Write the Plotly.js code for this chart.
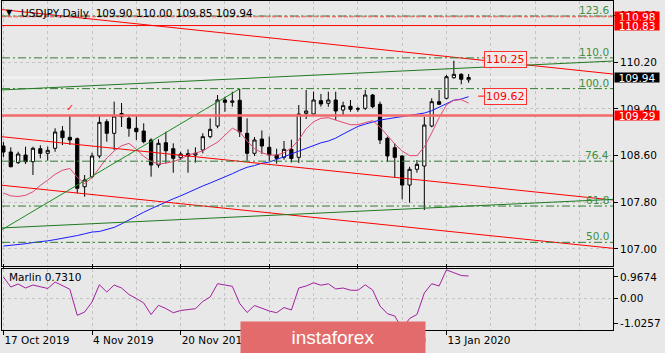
<!DOCTYPE html>
<html><head><meta charset="utf-8">
<script src="https://cdn.plot.ly/plotly-3.0.1.min.js"></script>
<style>html,body{margin:0;padding:0;background:#e8e8e8;overflow:hidden}#chart{width:665px;height:353px}</style>
</head><body><div id="chart"></div>
<script>
// ---------- data ----------
const dates = ['2019-10-17','2019-10-18','2019-10-21','2019-10-22','2019-10-23','2019-10-24','2019-10-25','2019-10-28','2019-10-29','2019-10-30','2019-10-31','2019-11-01','2019-11-04','2019-11-05','2019-11-06','2019-11-07','2019-11-08','2019-11-11','2019-11-12','2019-11-13','2019-11-14','2019-11-15','2019-11-18','2019-11-19','2019-11-20','2019-11-21','2019-11-22','2019-11-25','2019-11-26','2019-11-27','2019-11-28','2019-11-29','2019-12-02','2019-12-03','2019-12-04','2019-12-05','2019-12-06','2019-12-09','2019-12-10','2019-12-11','2019-12-12','2019-12-13','2019-12-16','2019-12-17','2019-12-18','2019-12-19','2019-12-20','2019-12-23','2019-12-24','2019-12-26','2019-12-27','2019-12-30','2019-12-31','2020-01-02','2020-01-03','2020-01-06','2020-01-07','2020-01-08','2020-01-09','2020-01-10','2020-01-13','2020-01-14','2020-01-15','2020-01-16'];
const open  = [108.765,108.662,108.479,108.611,108.496,108.719,108.640,108.726,109.022,108.914,108.890,108.067,108.239,108.594,109.182,108.983,109.322,109.240,109.069,109.022,108.868,108.439,108.822,108.719,108.564,108.633,108.611,108.697,108.925,109.108,109.554,109.514,109.549,108.983,108.640,108.885,108.743,108.611,108.571,108.708,108.571,109.326,109.314,109.542,109.497,109.554,109.382,109.446,109.404,109.411,109.639,109.480,108.897,108.736,108.594,108.096,108.366,108.422,109.108,109.525,109.583,109.936,109.994,109.90];
const high  = [108.834,108.743,108.667,108.753,108.753,108.777,108.753,109.069,109.108,109.297,108.910,108.268,108.650,109.279,109.223,109.525,109.502,109.297,109.279,109.154,108.897,108.880,109.010,108.811,108.667,108.708,108.743,108.983,109.240,109.639,109.610,109.696,109.746,109.240,108.919,109.031,108.928,108.719,108.851,108.873,109.468,109.725,109.696,109.657,109.696,109.696,109.525,109.554,109.439,109.725,109.657,109.525,108.925,108.811,108.611,108.410,108.525,109.267,109.583,109.725,109.982,110.227,110.011,110.00];
const low   = [108.576,108.400,108.456,108.456,108.268,108.554,108.513,108.667,108.782,108.782,107.954,107.896,108.211,108.554,108.839,108.697,109.091,108.925,108.868,108.811,108.239,108.393,108.468,108.307,108.525,108.307,108.479,108.640,108.897,109.069,109.353,109.439,108.919,108.513,108.594,108.628,108.508,108.462,108.530,108.482,108.474,109.228,109.297,109.439,109.439,109.211,109.297,109.353,109.353,109.382,109.411,108.799,108.496,108.228,107.851,107.793,108.307,107.668,109.086,109.468,109.566,109.919,109.823,109.85];
const close = [108.662,108.410,108.628,108.496,108.726,108.640,108.691,109.005,108.907,108.868,108.040,108.182,108.594,109.171,108.983,109.279,109.267,109.069,109.010,108.839,108.439,108.811,108.684,108.554,108.628,108.594,108.640,108.925,109.051,109.554,109.514,109.537,109.005,108.640,108.868,108.765,108.611,108.554,108.708,108.551,109.314,109.365,109.554,109.485,109.554,109.365,109.456,109.394,109.399,109.639,109.439,108.868,108.594,108.571,108.096,108.366,108.451,109.125,109.525,109.480,109.953,109.994,109.909,109.94];
const maFast = [107.96,107.91,107.90,107.92,107.98,108.09,108.18,108.28,108.35,108.38,108.23,108.12,108.22,108.39,108.56,108.68,108.77,108.81,108.71,108.59,108.50,108.46,108.47,108.50,108.54,108.61,108.65,108.68,108.76,108.83,108.95,109.07,109.01,108.85,108.72,108.65,108.61,108.61,108.65,108.73,108.87,109.06,109.18,109.24,109.25,109.21,109.17,109.13,109.13,109.16,109.20,109.09,108.94,108.80,108.68,108.60,108.60,108.75,108.99,109.25,109.47,109.55,109.56,109.50];
const maSlow = [107.05,107.06,107.08,107.09,107.11,107.12,107.14,107.16,107.18,107.21,107.23,107.26,107.29,107.30,107.33,107.37,107.43,107.50,107.57,107.63,107.69,107.75,107.81,107.86,107.91,107.97,108.02,108.08,108.13,108.18,108.23,108.29,108.35,108.40,108.43,108.47,108.49,108.53,108.58,108.63,108.68,108.73,108.77,108.82,108.85,108.90,108.97,109.04,109.10,109.14,109.18,109.21,109.23,109.25,109.26,109.28,109.30,109.33,109.37,109.43,109.50,109.55,109.57,109.61];
const marlin = [0.699,0.375,0.472,0.343,0.440,0.375,0.327,0.537,0.424,0.301,-0.541,-0.434,-0.110,0.450,0.213,0.440,0.343,0.132,0.003,-0.142,-0.515,-0.217,-0.321,-0.457,-0.385,-0.359,-0.327,-0.094,0.052,0.482,0.450,0.398,-0.159,-0.450,-0.223,-0.314,-0.401,-0.457,-0.288,-0.369,0.343,0.408,0.511,0.433,0.479,0.311,0.343,0.272,0.268,0.446,0.278,-0.240,-0.489,-0.563,-0.980,-0.644,-0.515,0.181,0.482,0.408,0.930,0.838,0.747,0.731];
const tickDates = ['2019-10-17','2019-11-04','2019-11-20','2019-12-06','2019-12-24','2020-01-13'];
const tickText  = ['17 Oct 2019','4 Nov 2019','20 Nov 2019','6 Dec 2019','24 Dec 2019','13 Jan 2020'];
const priceTicks = [111.00,110.20,109.40,108.60,107.80,107.00];
const marlinTickVals = [0.699,0,-0.812];
const marlinTickText = ['0.9674','0.00','-1.0257'];
const fibText  = ['123.6','110.0','100.0','76.4','61.8','50.0'];
const fibPrice = [110.993,110.276,109.749,108.505,107.736,107.114];
// trend lines: [bar index, price] anchors
const trendRedTop = {x:[-0.46,82.55], y:[111.107,109.999]};
const trendRedMid = {x:[-0.46,82.55], y:[108.928,107.839]};
const trendRedLow = {x:[-0.46,82.55], y:[108.096,107.011]};
const trendGrnTop = {x:[-0.46,82.55], y:[109.725,110.222]};
const trendGrnLow = {x:[-0.46,82.55], y:[107.359,107.851]};
const trendGrnDiag = {x:[-0.46,32], y:[107.311,109.746]};
const levelRed = [110.98,110.83];
const levelSupport = 109.29;
const bid = 109.94;
const tagRed = [110.98,110.83,109.29];
const boxLabels = [110.25,109.62];
const titleParts = ['USDJPY,Daily','109.90 110.00 109.85 109.94'];
const marlinLabel = 'Marlin 0.7310';

// ---------- build ----------
const xi = dates.map((d,i)=>i);
const tickIdx = tickDates.map(d=>dates.indexOf(d));
const FONT = 'DejaVu Sans';
const GRID = '#c4c4c4';
const FIBC = '#2f7f2f';

function tl(t,color){return {type:'scatter',mode:'lines',x:t.x,y:t.y,xaxis:'x',yaxis:'y',line:{color:color,width:1},hoverinfo:'skip',showlegend:false};}

const traces = [
  {type:'scatter',mode:'lines',x:xi,y:maSlow,line:{color:'#1a1aff',width:1},hoverinfo:'skip',showlegend:false},
  {type:'scatter',mode:'lines',x:xi,y:maFast,line:{color:'#e2486e',width:1},hoverinfo:'skip',showlegend:false},
  {type:'candlestick',x:xi,open:open,high:high,low:low,close:close,xaxis:'x',yaxis:'y',
   increasing:{line:{color:'#000',width:1},fillcolor:'#ffffff'},
   decreasing:{line:{color:'#000',width:1},fillcolor:'#000000'},
   whiskerwidth:0,hoverinfo:'skip',showlegend:false},
  tl(trendRedTop,'#ff0000'), tl(trendRedMid,'#ff0000'), tl(trendRedLow,'#ff0000'),
  tl(trendGrnTop,'#1f7a1f'), tl(trendGrnLow,'#1f7a1f'), tl(trendGrnDiag,'#1f8a1f'),
  {type:'scatter',mode:'lines',x:xi,y:marlin,xaxis:'x',yaxis:'y2',line:{color:'#a0209e',width:1},hoverinfo:'skip',showlegend:false}
];

const shapes = [];
fibPrice.forEach(p=>shapes.push({type:'line',xref:'paper',x0:0,x1:1,yref:'y',y0:p,y1:p,line:{color:FIBC,width:1,dash:'8px,3px,2px,3px'},layer:'above'}));
shapes.push({type:'line',xref:'paper',x0:0,x1:1,yref:'y',y0:levelRed[0],y1:levelRed[0],line:{color:'#ff5050',width:1,dash:'4px,2px'},layer:'above'});
shapes.push({type:'line',xref:'paper',x0:0,x1:1,yref:'y',y0:levelRed[1],y1:levelRed[1],line:{color:'#ff0000',width:1},layer:'above'});
shapes.push({type:'line',xref:'paper',x0:0,x1:1,yref:'y',y0:levelSupport,y1:levelSupport,line:{color:'#f26a6a',width:2.5},layer:'above'});
shapes.push({type:'line',xref:'paper',x0:0,x1:1,yref:'y',y0:bid,y1:bid,line:{color:'#f2f2f2',width:2},layer:'between'});
shapes.push({type:'line',xref:'paper',x0:0,x1:1,yref:'y2',y0:0,y1:0,line:{color:GRID,width:1,dash:'3px,3px'},layer:'between'});
// leader line for lower price box
shapes.push({type:'line',xref:'x',x0:64.3,x1:65.5,yref:'y',y0:boxLabels[1],y1:boxLabels[1],line:{color:'#ff0000',width:1},layer:'above'});

const ann = [];
// title
ann.push({xref:'paper',yref:'paper',x:0.0295,y:0.965,xanchor:'left',yanchor:'middle',text:titleParts.join('\u00a0\u00a0'),showarrow:false,borderpad:0,font:{family:FONT,size:10.5,color:'#000'}});
ann.push({xref:'paper',yref:'paper',x:0.0123,y:0.966,xanchor:'center',yanchor:'middle',text:'▼',showarrow:false,font:{family:FONT,size:8,color:'#000'}});
ann.push({xref:'paper',yref:'paper',x:0.0082,y:0.161,xanchor:'left',yanchor:'middle',text:marlinLabel,showarrow:false,font:{family:FONT,size:10.5,color:'#000'}});
// fib labels
fibPrice.forEach((p,k)=>ann.push({xref:'paper',yref:'y',x:1,y:p,xanchor:'right',yanchor:'bottom',xshift:-2,yshift:-2,text:fibText[k],showarrow:false,font:{family:FONT,size:10.5,color:'#3f8f3f'}}));
// right tags
tagRed.forEach(p=>ann.push({xref:'paper',yref:'y',x:1,y:p,xanchor:'left',yanchor:'middle',xshift:1,text:p.toFixed(2),showarrow:false,bgcolor:'#ff0000',width:44,height:9,borderpad:0,align:'center',font:{family:FONT,size:10.5,color:'#fff'}}));
ann.push({xref:'paper',yref:'y',x:1,y:bid,xanchor:'left',yanchor:'middle',xshift:1,text:bid.toFixed(2),showarrow:false,bgcolor:'#000',width:44,height:9,borderpad:0,align:'center',font:{family:FONT,size:10.5,color:'#fff'}});
// boxed price labels
boxLabels.forEach(p=>ann.push({xref:'x',yref:'y',x:68,y:p,xanchor:'center',yanchor:'middle',text:p.toFixed(2),showarrow:false,bgcolor:'rgba(236,236,236,0.9)',bordercolor:'#ff3030',borderwidth:1,borderpad:1,font:{family:FONT,size:11,color:'#ff0000'}}));
// check mark
ann.push({xref:'x',yref:'y',x:9,y:high[9],xanchor:'center',yanchor:'bottom',yshift:0,text:'✓',showarrow:false,font:{family:FONT,size:10,color:'#ff2020'}});
// watermark
ann.push({xref:'paper',yref:'paper',x:0.5417,y:-0.0228,xanchor:'center',yanchor:'middle',text:'instaforex',showarrow:false,bgcolor:'#e36b6b',width:184,height:31,borderpad:0,font:{family:'Liberation Sans',size:19,color:'#fff'}});

const layout = {
  width:665,height:353,
  margin:{l:2,r:52,t:1,b:23},
  paper_bgcolor:'#e8e8e8',plot_bgcolor:'#e8e8e8',
  font:{family:FONT,size:10.5,color:'#000'},
  showlegend:false,
  boxgap:0.38,
  xaxis:{type:'linear',range:[-0.19,82.55],anchor:'y2',
    tickmode:'array',tickvals:tickIdx,ticktext:tickText,ticks:'outside',ticklen:4,tickcolor:'#000',
    ticklabelposition:'outside right',
    showgrid:true,gridcolor:GRID,griddash:'3px,3px',gridwidth:1,
    minor:{tickmode:'linear',tick0:0,dtick:6,showgrid:true,gridcolor:GRID,griddash:'3px,3px',ticks:''},
    showline:true,linecolor:'#000',linewidth:1,mirror:'all',zeroline:false,
    rangeslider:{visible:false},fixedrange:true},
  yaxis:{domain:[0.1954,1],range:[106.713,111.251],side:'right',anchor:'x',
    tickmode:'array',tickvals:priceTicks,ticktext:priceTicks.map(v=>v.toFixed(2)),
    ticks:'outside',ticklen:4,tickcolor:'#000',
    showgrid:true,gridcolor:GRID,griddash:'3px,3px',
    showline:true,linecolor:'#000',linewidth:1,mirror:true,zeroline:false,fixedrange:true},
  yaxis2:{domain:[0,0.1863],range:[-1.016,0.9674],side:'right',anchor:'x',
    tickmode:'array',tickvals:marlinTickVals,ticktext:marlinTickText,
    ticks:'outside',ticklen:4,tickcolor:'#000',showgrid:false,
    showline:true,linecolor:'#000',linewidth:1,mirror:true,zeroline:false,fixedrange:true},
  shapes:shapes,annotations:ann
};
Plotly.newPlot('chart',traces,layout,{staticPlot:true,displayModeBar:false});
</script></body></html>
